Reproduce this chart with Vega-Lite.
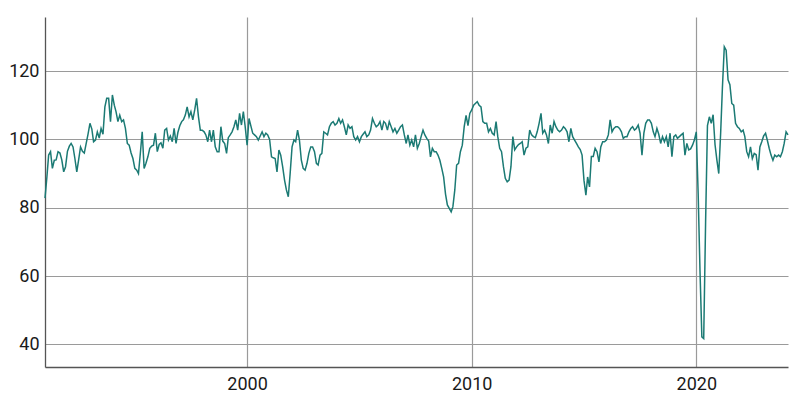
{
  "$schema": "https://vega.github.io/schema/vega-lite/v6.json",
  "width": 743,
  "height": 350,
  "autosize": {"type": "none"},
  "padding": {"left": 45, "top": 17, "right": 12, "bottom": 31},
  "background": "white",
  "config": {"view": {"stroke": null}},
  "datasets": {
    "idx": [
      {"d":"1991-01-01","v":82.8},{"d":"1991-02-01","v":89},{"d":"1991-03-01","v":95.4},{"d":"1991-04-01","v":96.4},{"d":"1991-05-01","v":91.5},{"d":"1991-06-01","v":93.9},{"d":"1991-07-01","v":94},{"d":"1991-08-01","v":96.4},{"d":"1991-09-01","v":96},{"d":"1991-10-01","v":94},{"d":"1991-11-01","v":90.5},{"d":"1991-12-01","v":92},
      {"d":"1992-01-01","v":96.5},{"d":"1992-02-01","v":98},{"d":"1992-03-01","v":98.8},{"d":"1992-04-01","v":97.8},{"d":"1992-05-01","v":94.4},{"d":"1992-06-01","v":90.5},{"d":"1992-07-01","v":94},{"d":"1992-08-01","v":97.8},{"d":"1992-09-01","v":96.5},{"d":"1992-10-01","v":96},{"d":"1992-11-01","v":98.8},{"d":"1992-12-01","v":101.5},
      {"d":"1993-01-01","v":104.7},{"d":"1993-02-01","v":103},{"d":"1993-03-01","v":99.3},{"d":"1993-04-01","v":99.8},{"d":"1993-05-01","v":102.2},{"d":"1993-06-01","v":100.4},{"d":"1993-07-01","v":103.2},{"d":"1993-08-01","v":101.5},{"d":"1993-09-01","v":109.5},{"d":"1993-10-01","v":112},{"d":"1993-11-01","v":112},{"d":"1993-12-01","v":105.2},
      {"d":"1994-01-01","v":113},{"d":"1994-02-01","v":110},{"d":"1994-03-01","v":108.1},{"d":"1994-04-01","v":105.2},{"d":"1994-05-01","v":107.1},{"d":"1994-06-01","v":105.2},{"d":"1994-07-01","v":105.7},{"d":"1994-08-01","v":103.2},{"d":"1994-09-01","v":98.8},{"d":"1994-10-01","v":98.3},{"d":"1994-11-01","v":96},{"d":"1994-12-01","v":94.4},
      {"d":"1995-01-01","v":91.5},{"d":"1995-02-01","v":91},{"d":"1995-03-01","v":90},{"d":"1995-04-01","v":96},{"d":"1995-05-01","v":102.2},{"d":"1995-06-01","v":91.5},{"d":"1995-07-01","v":93},{"d":"1995-08-01","v":94.9},{"d":"1995-09-01","v":97.4},{"d":"1995-10-01","v":98},{"d":"1995-11-01","v":98.3},{"d":"1995-12-01","v":101.8},
      {"d":"1996-01-01","v":96.4},{"d":"1996-02-01","v":98.5},{"d":"1996-03-01","v":99},{"d":"1996-04-01","v":97.4},{"d":"1996-05-01","v":102.7},{"d":"1996-06-01","v":103.2},{"d":"1996-07-01","v":99.8},{"d":"1996-08-01","v":101},{"d":"1996-09-01","v":99.3},{"d":"1996-10-01","v":103.2},{"d":"1996-11-01","v":98.8},{"d":"1996-12-01","v":102},
      {"d":"1997-01-01","v":104},{"d":"1997-02-01","v":105.2},{"d":"1997-03-01","v":105.7},{"d":"1997-04-01","v":107.1},{"d":"1997-05-01","v":109.5},{"d":"1997-06-01","v":106.6},{"d":"1997-07-01","v":108.1},{"d":"1997-08-01","v":105.7},{"d":"1997-09-01","v":108.6},{"d":"1997-10-01","v":112},{"d":"1997-11-01","v":106.6},{"d":"1997-12-01","v":102.7},
      {"d":"1998-01-01","v":102.7},{"d":"1998-02-01","v":102.2},{"d":"1998-03-01","v":101.3},{"d":"1998-04-01","v":99.3},{"d":"1998-05-01","v":102.7},{"d":"1998-06-01","v":99.3},{"d":"1998-07-01","v":102.7},{"d":"1998-08-01","v":97.8},{"d":"1998-09-01","v":96.4},{"d":"1998-10-01","v":96.4},{"d":"1998-11-01","v":103.7},{"d":"1998-12-01","v":99.5},
      {"d":"1999-01-01","v":98.8},{"d":"1999-02-01","v":95.9},{"d":"1999-03-01","v":100.5},{"d":"1999-04-01","v":101.3},{"d":"1999-05-01","v":102.2},{"d":"1999-06-01","v":103.7},{"d":"1999-07-01","v":105.7},{"d":"1999-08-01","v":102.7},{"d":"1999-09-01","v":107.6},{"d":"1999-10-01","v":104.2},{"d":"1999-11-01","v":108.1},{"d":"1999-12-01","v":103.7},
      {"d":"2000-01-01","v":98.3},{"d":"2000-02-01","v":106.1},{"d":"2000-03-01","v":104},{"d":"2000-04-01","v":101.8},{"d":"2000-05-01","v":101.3},{"d":"2000-06-01","v":100.8},{"d":"2000-07-01","v":99.8},{"d":"2000-08-01","v":101},{"d":"2000-09-01","v":102.2},{"d":"2000-10-01","v":100.8},{"d":"2000-11-01","v":101.8},{"d":"2000-12-01","v":101.3},
      {"d":"2001-01-01","v":100},{"d":"2001-02-01","v":94.9},{"d":"2001-03-01","v":94.6},{"d":"2001-04-01","v":94.4},{"d":"2001-05-01","v":90.5},{"d":"2001-06-01","v":96.9},{"d":"2001-07-01","v":95.4},{"d":"2001-08-01","v":92},{"d":"2001-09-01","v":88.1},{"d":"2001-10-01","v":85.2},{"d":"2001-11-01","v":83.2},{"d":"2001-12-01","v":90},
      {"d":"2002-01-01","v":97.8},{"d":"2002-02-01","v":99.8},{"d":"2002-03-01","v":99.3},{"d":"2002-04-01","v":102.7},{"d":"2002-05-01","v":99.8},{"d":"2002-06-01","v":93.9},{"d":"2002-07-01","v":91.5},{"d":"2002-08-01","v":91},{"d":"2002-09-01","v":93},{"d":"2002-10-01","v":95.9},{"d":"2002-11-01","v":97.8},{"d":"2002-12-01","v":97.8},
      {"d":"2003-01-01","v":96.4},{"d":"2003-02-01","v":93},{"d":"2003-03-01","v":92.5},{"d":"2003-04-01","v":95.4},{"d":"2003-05-01","v":95.9},{"d":"2003-06-01","v":102.2},{"d":"2003-07-01","v":101.8},{"d":"2003-08-01","v":101.3},{"d":"2003-09-01","v":103.7},{"d":"2003-10-01","v":104.7},{"d":"2003-11-01","v":105.2},{"d":"2003-12-01","v":104.2},
      {"d":"2004-01-01","v":104.7},{"d":"2004-02-01","v":106.1},{"d":"2004-03-01","v":104.7},{"d":"2004-04-01","v":105.7},{"d":"2004-05-01","v":103.7},{"d":"2004-06-01","v":101.3},{"d":"2004-07-01","v":104.2},{"d":"2004-08-01","v":103.2},{"d":"2004-09-01","v":103.7},{"d":"2004-10-01","v":100.8},{"d":"2004-11-01","v":99.8},{"d":"2004-12-01","v":100.8},
      {"d":"2005-01-01","v":99.3},{"d":"2005-02-01","v":100.8},{"d":"2005-03-01","v":101.5},{"d":"2005-04-01","v":102.2},{"d":"2005-05-01","v":100.8},{"d":"2005-06-01","v":101.3},{"d":"2005-07-01","v":102.7},{"d":"2005-08-01","v":106.1},{"d":"2005-09-01","v":104.7},{"d":"2005-10-01","v":103.7},{"d":"2005-11-01","v":104.2},{"d":"2005-12-01","v":105.2},
      {"d":"2006-01-01","v":102.7},{"d":"2006-02-01","v":105.2},{"d":"2006-03-01","v":104.7},{"d":"2006-04-01","v":102.7},{"d":"2006-05-01","v":105.2},{"d":"2006-06-01","v":103.7},{"d":"2006-07-01","v":102.2},{"d":"2006-08-01","v":103.2},{"d":"2006-09-01","v":101.8},{"d":"2006-10-01","v":102.7},{"d":"2006-11-01","v":103.7},{"d":"2006-12-01","v":104.2},
      {"d":"2007-01-01","v":101.3},{"d":"2007-02-01","v":98.8},{"d":"2007-03-01","v":101.3},{"d":"2007-04-01","v":98.3},{"d":"2007-05-01","v":99.8},{"d":"2007-06-01","v":97.8},{"d":"2007-07-01","v":101.3},{"d":"2007-08-01","v":97.4},{"d":"2007-09-01","v":98.8},{"d":"2007-10-01","v":100.8},{"d":"2007-11-01","v":102.7},{"d":"2007-12-01","v":101.3},
      {"d":"2008-01-01","v":100.3},{"d":"2008-02-01","v":99.5},{"d":"2008-03-01","v":94.9},{"d":"2008-04-01","v":97.4},{"d":"2008-05-01","v":96.4},{"d":"2008-06-01","v":96.4},{"d":"2008-07-01","v":95.4},{"d":"2008-08-01","v":93.9},{"d":"2008-09-01","v":91.5},{"d":"2008-10-01","v":89},{"d":"2008-11-01","v":84},{"d":"2008-12-01","v":80.8},
      {"d":"2009-01-01","v":79.8},{"d":"2009-02-01","v":78.8},{"d":"2009-03-01","v":80.3},{"d":"2009-04-01","v":85.2},{"d":"2009-05-01","v":92.5},{"d":"2009-06-01","v":93},{"d":"2009-07-01","v":96.4},{"d":"2009-08-01","v":98.3},{"d":"2009-09-01","v":103.7},{"d":"2009-10-01","v":107},{"d":"2009-11-01","v":104},{"d":"2009-12-01","v":107.6},
      {"d":"2010-01-01","v":108.6},{"d":"2010-02-01","v":110},{"d":"2010-03-01","v":110.5},{"d":"2010-04-01","v":111},{"d":"2010-05-01","v":110},{"d":"2010-06-01","v":109.5},{"d":"2010-07-01","v":105.2},{"d":"2010-08-01","v":104.7},{"d":"2010-09-01","v":104.7},{"d":"2010-10-01","v":102.2},{"d":"2010-11-01","v":103.2},{"d":"2010-12-01","v":101.8},
      {"d":"2011-01-01","v":101.3},{"d":"2011-02-01","v":105.2},{"d":"2011-03-01","v":100.8},{"d":"2011-04-01","v":97.4},{"d":"2011-05-01","v":96.4},{"d":"2011-06-01","v":92},{"d":"2011-07-01","v":88.6},{"d":"2011-08-01","v":87.6},{"d":"2011-09-01","v":88.1},{"d":"2011-10-01","v":92},{"d":"2011-11-01","v":100.8},{"d":"2011-12-01","v":96.9},
      {"d":"2012-01-01","v":97.8},{"d":"2012-02-01","v":98.5},{"d":"2012-03-01","v":98.8},{"d":"2012-04-01","v":99.3},{"d":"2012-05-01","v":95.4},{"d":"2012-06-01","v":97.4},{"d":"2012-07-01","v":97.8},{"d":"2012-08-01","v":102.7},{"d":"2012-09-01","v":101.3},{"d":"2012-10-01","v":100.8},{"d":"2012-11-01","v":100.5},{"d":"2012-12-01","v":102.2},
      {"d":"2013-01-01","v":104.7},{"d":"2013-02-01","v":107.6},{"d":"2013-03-01","v":101.8},{"d":"2013-04-01","v":102.7},{"d":"2013-05-01","v":101.3},{"d":"2013-06-01","v":98.8},{"d":"2013-07-01","v":104.2},{"d":"2013-08-01","v":101.8},{"d":"2013-09-01","v":105.2},{"d":"2013-10-01","v":103.7},{"d":"2013-11-01","v":102.7},{"d":"2013-12-01","v":102.2},
      {"d":"2014-01-01","v":102.7},{"d":"2014-02-01","v":103.7},{"d":"2014-03-01","v":103.2},{"d":"2014-04-01","v":102.2},{"d":"2014-05-01","v":99.3},{"d":"2014-06-01","v":103.2},{"d":"2014-07-01","v":100.8},{"d":"2014-08-01","v":99.8},{"d":"2014-09-01","v":98.8},{"d":"2014-10-01","v":97.8},{"d":"2014-11-01","v":97},{"d":"2014-12-01","v":95.4},
      {"d":"2015-01-01","v":88},{"d":"2015-02-01","v":83.7},{"d":"2015-03-01","v":89},{"d":"2015-04-01","v":86.1},{"d":"2015-05-01","v":95},{"d":"2015-06-01","v":95},{"d":"2015-07-01","v":97.4},{"d":"2015-08-01","v":96.4},{"d":"2015-09-01","v":93.4},{"d":"2015-10-01","v":97.8},{"d":"2015-11-01","v":99.3},{"d":"2015-12-01","v":99.3},
      {"d":"2016-01-01","v":99.8},{"d":"2016-02-01","v":101.3},{"d":"2016-03-01","v":105.7},{"d":"2016-04-01","v":102.2},{"d":"2016-05-01","v":103.2},{"d":"2016-06-01","v":103.7},{"d":"2016-07-01","v":103.7},{"d":"2016-08-01","v":103.2},{"d":"2016-09-01","v":102.2},{"d":"2016-10-01","v":100.3},{"d":"2016-11-01","v":100.8},{"d":"2016-12-01","v":100.8},
      {"d":"2017-01-01","v":102.2},{"d":"2017-02-01","v":103.2},{"d":"2017-03-01","v":103.7},{"d":"2017-04-01","v":102.7},{"d":"2017-05-01","v":103.2},{"d":"2017-06-01","v":104.2},{"d":"2017-07-01","v":101.8},{"d":"2017-08-01","v":95.4},{"d":"2017-09-01","v":101.8},{"d":"2017-10-01","v":104.7},{"d":"2017-11-01","v":105.7},{"d":"2017-12-01","v":105.7},
      {"d":"2018-01-01","v":104.7},{"d":"2018-02-01","v":102.2},{"d":"2018-03-01","v":100.8},{"d":"2018-04-01","v":103.2},{"d":"2018-05-01","v":101.5},{"d":"2018-06-01","v":98.8},{"d":"2018-07-01","v":100.8},{"d":"2018-08-01","v":99.3},{"d":"2018-09-01","v":100.8},{"d":"2018-10-01","v":97.8},{"d":"2018-11-01","v":101.8},{"d":"2018-12-01","v":94.9},
      {"d":"2019-01-01","v":100.8},{"d":"2019-02-01","v":101.3},{"d":"2019-03-01","v":100.3},{"d":"2019-04-01","v":100.8},{"d":"2019-05-01","v":101.3},{"d":"2019-06-01","v":101.8},{"d":"2019-07-01","v":95.4},{"d":"2019-08-01","v":98.8},{"d":"2019-09-01","v":96.9},{"d":"2019-10-01","v":97.2},{"d":"2019-11-01","v":98.3},{"d":"2019-12-01","v":99.8},
      {"d":"2020-01-01","v":102.2},{"d":"2020-02-01","v":84},{"d":"2020-03-01","v":62},{"d":"2020-04-01","v":42.2},{"d":"2020-05-01","v":41.7},{"d":"2020-06-01","v":76},{"d":"2020-07-01","v":104},{"d":"2020-08-01","v":106.6},{"d":"2020-09-01","v":104.7},{"d":"2020-10-01","v":107.2},{"d":"2020-11-01","v":98.5},{"d":"2020-12-01","v":94},
      {"d":"2021-01-01","v":90},{"d":"2021-02-01","v":102},{"d":"2021-03-01","v":115},{"d":"2021-04-01","v":127.1},{"d":"2021-05-01","v":126.1},{"d":"2021-06-01","v":117.4},{"d":"2021-07-01","v":116},{"d":"2021-08-01","v":110.5},{"d":"2021-09-01","v":110},{"d":"2021-10-01","v":104.7},{"d":"2021-11-01","v":103.7},{"d":"2021-12-01","v":103.2},
      {"d":"2022-01-01","v":102.2},{"d":"2022-02-01","v":102.7},{"d":"2022-03-01","v":100.8},{"d":"2022-04-01","v":96.4},{"d":"2022-05-01","v":94.9},{"d":"2022-06-01","v":97.8},{"d":"2022-07-01","v":94.4},{"d":"2022-08-01","v":95.9},{"d":"2022-09-01","v":95.5},{"d":"2022-10-01","v":91},{"d":"2022-11-01","v":97.8},{"d":"2022-12-01","v":99.3},
      {"d":"2023-01-01","v":101},{"d":"2023-02-01","v":101.8},{"d":"2023-03-01","v":99.8},{"d":"2023-04-01","v":97.4},{"d":"2023-05-01","v":95.4},{"d":"2023-06-01","v":93.9},{"d":"2023-07-01","v":95.4},{"d":"2023-08-01","v":94.9},{"d":"2023-09-01","v":95.4},{"d":"2023-10-01","v":94.9},{"d":"2023-11-01","v":96.4},{"d":"2023-12-01","v":98.8},
      {"d":"2024-01-01","v":102.2},{"d":"2024-02-01","v":101.3}
    ]
  },
  "data": {"name": "idx"},
  "mark": {"type": "line", "color": "#1b7a74", "strokeWidth": 1.5, "interpolate": "linear"},
  "encoding": {
    "x": {
      "field": "d",
      "type": "temporal",
      "title": null,
      "scale": {
        "type": "utc",
        "domain": [
          {"year": 1991, "month": 1, "date": 1, "utc": true},
          {"year": 2024, "month": 2, "date": 1, "utc": true}
        ],
        "nice": false
      },
      "axis": {
        "values": [
          {"year": 2000, "month": 1, "date": 1, "utc": true},
          {"year": 2010, "month": 1, "date": 1, "utc": true},
          {"year": 2020, "month": 1, "date": 1, "utc": true}
        ],
        "format": "%Y",
        "formatType": "utc",
        "grid": true,
        "gridColor": "#9a9a9a",
        "gridWidth": 1.2,
        "ticks": false,
        "domain": true,
        "domainColor": "#555555",
        "domainWidth": 1.3,
        "labelFont": "Roboto",
        "labelFontSize": 18,
        "labelColor": "#1a1a1a",
        "labelPadding": 8
      }
    },
    "y": {
      "field": "v",
      "type": "quantitative",
      "title": null,
      "scale": {"domain": [33.4, 135.8], "nice": false, "zero": false},
      "axis": {
        "values": [40, 60, 80, 100, 120],
        "grid": true,
        "gridColor": "#9a9a9a",
        "gridWidth": 1.2,
        "ticks": false,
        "domain": true,
        "domainColor": "#555555",
        "domainWidth": 1.3,
        "labelFont": "Roboto",
        "labelFontSize": 18,
        "labelColor": "#1a1a1a",
        "labelPadding": 6
      }
    }
  }
}
